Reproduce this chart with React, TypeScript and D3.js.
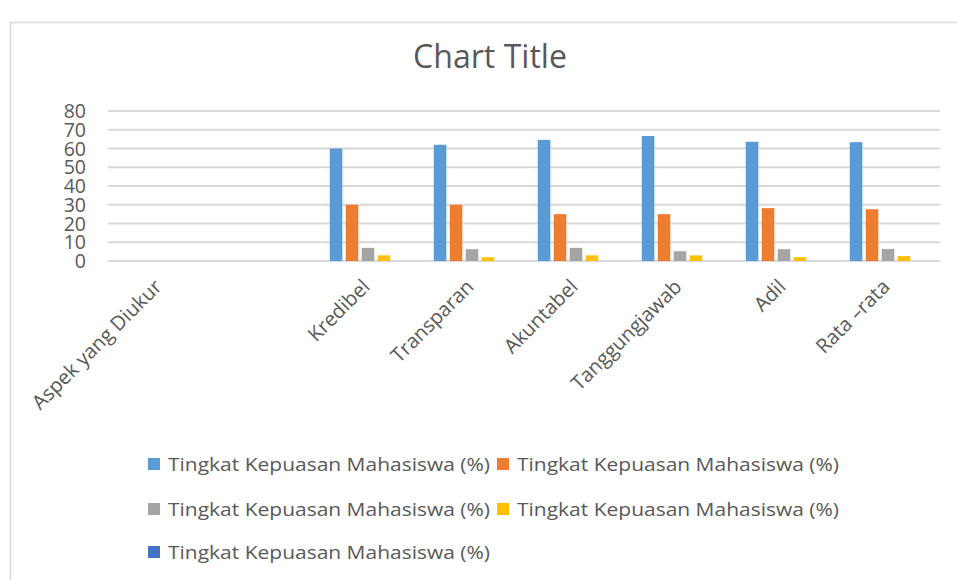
import React from "react";
import * as d3 from "d3";

const width = 957;
const height = 580;
const margin = { top: 111, right: 17, bottom: 319, left: 108 };

// categories (the second one is blank in the source sheet)
const categories = [
  "Aspek yang Diukur",
  "",
  "Kredibel",
  "Transparan",
  "Akuntabel",
  "Tanggungjawab",
  "Adil",
  "Rata \u2013rata"
];

const seriesName = "Tingkat Kepuasan Mahasiswa (%)";
const seriesColors = ["#5B9BD5", "#ED7D31", "#A5A5A5", "#FFC000", "#4472C4"];

const blueVals = [null, null, 60, 62, 64.6, 66.7, 63.6, 63.4];
const orangeVals = [null, null, 30, 30, 25, 25, 28.2, 27.6];
const grayVals = [null, null, 7, 6.3, 7, 5.2, 6.3, 6.4];
const yellowVals = [null, null, 3, 2, 3, 3, 2, 2.6];
const darkVals = [null, null, null, null, null, null, null, null];

const series = [blueVals, orangeVals, grayVals, yellowVals, darkVals];
const yTicks = [0, 10, 20, 30, 40, 50, 60, 70, 80];

const font = "'Open Sans', 'Noto Sans', sans-serif";
const textColor = "#595959";

export default function App() {
  const x0 = d3
    .scaleBand()
    .domain(categories.map((d, i) => String(i)))
    .range([margin.left, width - margin.right]);

  // excel clustered column: gap width 219%, overlap -27%
  const bw = x0.bandwidth() / (2.19 + 1 + 4 * 1.27);
  const step = bw * 1.27;
  const groupStart = (bw * 2.19) / 2;

  const y = d3
    .scaleLinear()
    .domain([0, 80])
    .range([height - margin.bottom, margin.top]);

  const legendCols = [148, 497];
  const legendRows = [464, 509, 552];

  return (
    <svg
      width={width}
      height={height}
      style={{ position: "absolute", left: 0, top: 0, background: "#fff" }}
      fontFamily={font}
    >
      {/* chart area border */}
      <rect x={10.5} y={22.5} width={width + 20} height={height + 20} fill="#fff" stroke="#d9d9d9" strokeWidth={1.5} />

      <text x={490} y={68} textAnchor="middle" fontSize={32} fill={textColor} textLength={154} lengthAdjust="spacingAndGlyphs">
        Chart Title
      </text>

      {yTicks.map(t => (
        <g key={t}>
          <line x1={margin.left} x2={width - margin.right} y1={y(t)} y2={y(t)} stroke="#d9d9d9" strokeWidth={2} />
          <text x={86} y={y(t)} dy="0.36em" textAnchor="end" fontSize={19.5} fill={textColor}>
            {t}
          </text>
        </g>
      ))}

      {series.map((vals, si) =>
        vals.map((v, ci) =>
          v == null ? null : (
            <rect
              key={si + "-" + ci}
              x={x0(String(ci))! + groupStart + si * step}
              y={y(v)}
              width={bw}
              height={y(0) - y(v)}
              fill={seriesColors[si]}
            />
          )
        )
      )}

      {categories.map((c, i) => {
        const cx = x0(String(i))! + x0.bandwidth() / 2;
        return (
          <text
            key={i}
            transform={`translate(${cx + 3},${y(0) + 27}) rotate(-45)`}
            textAnchor="end"
            fontSize={20}
            fill={textColor}
          >
            {c}
          </text>
        );
      })}

      {series.map((_, si) => {
        const lx = legendCols[si % 2];
        const ly = legendRows[Math.floor(si / 2)];
        return (
          <g key={si}>
            <rect x={lx} y={ly - 6} width={12} height={12} fill={seriesColors[si]} />
            <text x={lx + 20} y={ly} dy="0.36em" fontSize={19} fill={textColor} textLength={322} lengthAdjust="spacingAndGlyphs">
              {seriesName}
            </text>
          </g>
        );
      })}
    </svg>
  );
}
